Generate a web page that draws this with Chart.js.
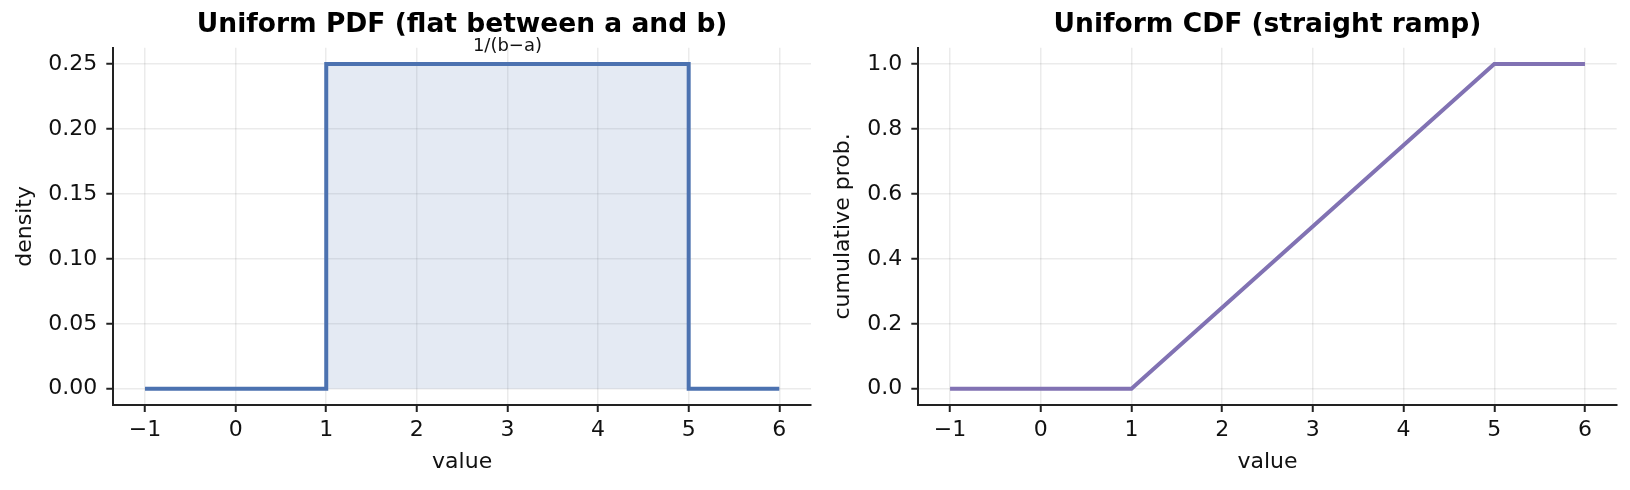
<!DOCTYPE html>
<html>
<head>
<meta charset="utf-8">
<script src="https://cdn.jsdelivr.net/npm/chart.js@4.4.1/dist/chart.umd.min.js"></script>
<style>
  html, body { margin: 0; padding: 0; background: #fff; }
  body { width: 1630px; height: 490px; position: relative; overflow: hidden; }
  .panel { position: absolute; top: 0; width: 815px; height: 490px; }
  #pdfPanel { left: 0; }
  #cdfPanel { left: 815px; }
</style>
</head>
<body>
<div class="panel" id="pdfPanel"><canvas id="pdfChart" width="815" height="490"></canvas></div>
<div class="panel" id="cdfPanel"><canvas id="cdfChart" width="815" height="490"></canvas></div>
<script>
// uniform distribution on [a, b] = [1, 5]
const pdfX = [-1, 1, 1, 5, 5, 6];
const pdfY = [0, 0, 0.25, 0.25, 0, 0];
const cdfX = [-1, 1, 5, 6];
const cdfY = [0, 0, 1, 1];

const xTicks = [-1, 0, 1, 2, 3, 4, 5, 6];
const pdfTicks = [0, 0.05, 0.10, 0.15, 0.20, 0.25];
const cdfTicks = [0, 0.2, 0.4, 0.6, 0.8, 1.0];

const annotText = "1/(b\u2212a)";
const annotX = 3;
const annotY = 0.25;

Chart.defaults.font.family = "'DejaVu Sans', sans-serif";
Chart.defaults.color = "#111";

const gridColor = "rgba(0,0,0,0.08)";
const spineColor = "#222";

function toPoints(xs, ys) {
    return xs.map((x, i) => ({ x: x, y: ys[i] }));
}

function minusSign(v) {
    return String(v).replace("-", "\u2212");
}

function axisX(min, max) {
    return {
        type: "linear",
        min: min,
        max: max,
        afterBuildTicks: (scale) => { scale.ticks = xTicks.map(v => ({ value: v })); },
        afterFit: (scale) => { scale.height = 85; },
        grid: { color: gridColor, lineWidth: 1.5, tickColor: spineColor, tickLength: 7, tickWidth: 2 },
        border: { color: spineColor, width: 2 },
        ticks: { font: { size: 22 }, padding: 5, callback: (v) => minusSign(v) },
        title: { display: true, text: "value", font: { size: 22 }, padding: { top: 0, bottom: 15 } },
    };
}

function axisY(min, max, ticks, digits, label, width, titlePad) {
    return {
        type: "linear",
        min: min,
        max: max,
        afterBuildTicks: (scale) => { scale.ticks = ticks.map(v => ({ value: v })); },
        afterFit: (scale) => { scale.width = width; },
        grid: { color: gridColor, lineWidth: 1.5, tickColor: spineColor, tickLength: 7, tickWidth: 2 },
        border: { color: spineColor, width: 2 },
        ticks: { font: { size: 22 }, padding: 9, callback: (v) => v.toFixed(digits) },
        title: { display: true, text: label, font: { size: 22 }, padding: { top: titlePad, bottom: 0 } },
    };
}

function titleOpts(text) {
    return {
        display: true,
        text: text,
        fullSize: false,
        color: "#000",
        font: { size: 26.5, weight: "bold" },
        padding: { top: 9.5, bottom: 6.5 },
    };
}

const annotationPlugin = {
    id: "annot",
    afterDatasetsDraw(chart) {
        const ctx = chart.ctx;
        const px = chart.scales.x.getPixelForValue(annotX);
        const py = chart.scales.y.getPixelForValue(annotY);
        ctx.save();
        ctx.font = "18px 'DejaVu Sans', sans-serif";
        ctx.fillStyle = "#111";
        ctx.textAlign = "center";
        ctx.textBaseline = "alphabetic";
        ctx.fillText(annotText, px, py - 13);
        ctx.restore();
    },
};

new Chart(document.getElementById("pdfChart"), {
    type: "scatter",
    data: {
        datasets: [{
            data: toPoints(pdfX, pdfY),
            showLine: true,
            borderColor: "#4c72b0",
            borderWidth: 4,
            borderJoinStyle: "miter",
            backgroundColor: "rgba(76,114,176,0.15)",
            fill: "origin",
            pointRadius: 0,
            tension: 0,
        }],
    },
    options: {
        responsive: false,
        animation: false,
        layout: { padding: { left: 0, right: 4, top: 0, bottom: 0 } },
        plugins: {
            legend: { display: false },
            tooltip: { enabled: false },
            title: titleOpts("Uniform PDF (flat between a and b)"),
        },
        scales: {
            x: axisX(-1.35, 6.35),
            y: axisY(-0.0125, 0.2625, pdfTicks, 2, "density", 113.3, 12),
        },
    },
    plugins: [annotationPlugin],
});

new Chart(document.getElementById("cdfChart"), {
    type: "scatter",
    data: {
        datasets: [{
            data: toPoints(cdfX, cdfY),
            showLine: true,
            borderColor: "#8172b3",
            borderWidth: 4,
            borderJoinStyle: "miter",
            fill: false,
            pointRadius: 0,
            tension: 0,
        }],
    },
    options: {
        responsive: false,
        animation: false,
        layout: { padding: { left: 0, right: 13.3, top: 0, bottom: 0 } },
        plugins: {
            legend: { display: false },
            tooltip: { enabled: false },
            title: titleOpts("Uniform CDF (straight ramp)"),
        },
        scales: {
            x: axisX(-1.35, 6.35),
            y: axisY(-0.05, 1.05, cdfTicks, 1, "cumulative prob.", 103.3, 15),
        },
    },
});
</script>
</body>
</html>
